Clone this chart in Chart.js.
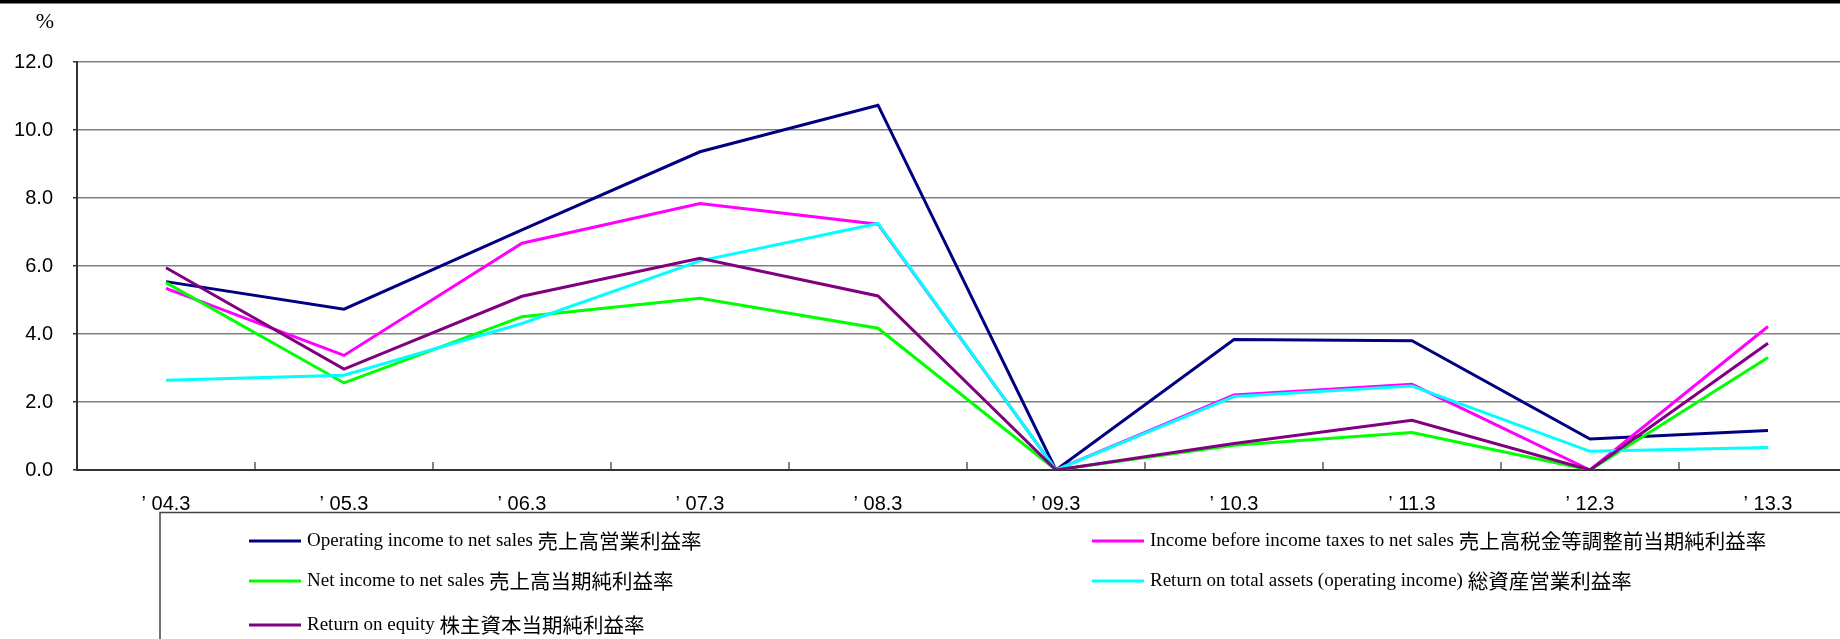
<!DOCTYPE html>
<html>
<head>
<meta charset="utf-8">
<script src="https://cdn.jsdelivr.net/npm/chart.js@4.4.0/dist/chart.umd.min.js"></script>
<style>
  html, body { margin: 0; padding: 0; background: #fff; overflow: hidden; }
  #wrap { width: 1860px; height: 639px; position: relative; }
</style>
</head>
<body>
<div id="wrap"><canvas id="ratioChart"></canvas></div>
<script>
const years = ["’ 04.3", "’ 05.3", "’ 06.3", "’ 07.3", "’ 08.3", "’ 09.3", "’ 10.3", "’ 11.3", "’ 12.3", "’ 13.3"];
const yTicks = [0, 2, 4, 6, 8, 10, 12];

const operatingIncome = [5.54, 4.73, 7.06, 9.36, 10.73, 0, 3.84, 3.80, 0.91, 1.16];
const incomeBeforeTax = [5.34, 3.37, 6.67, 7.84, 7.23, 0, 2.21, 2.52, 0, 4.22];
const netIncome = [5.51, 2.56, 4.51, 5.05, 4.17, 0, 0.73, 1.10, 0, 3.31];
const returnOnAssets = [2.64, 2.79, 4.31, 6.15, 7.25, 0, 2.16, 2.47, 0.55, 0.66];
const returnOnEquity = [5.95, 2.97, 5.11, 6.23, 5.12, 0, 0.78, 1.46, 0, 3.73];

const seriesLabels = [
  "Operating income to net sales 売上高営業利益率",
  "Income before income taxes to net sales 売上高税金等調整前当期純利益率",
  "Net income to net sales 売上高当期純利益率",
  "Return on total assets (operating income) 総資産営業利益率",
  "Return on equity 株主資本当期純利益率"
];
const seriesColors = ["#000080", "#ff00ff", "#00ff00", "#00ffff", "#800080"];

// legend slots: [lineX, textX, rowY]
const legendSlots = [
  [249, 307, 541],
  [1092, 1150, 541],
  [249, 307, 581],
  [1092, 1150, 581],
  [249, 307, 625]
];

const frame = {
  id: "frame",
  beforeDraw(chart) {
    const ctx = chart.ctx;
    ctx.save();
    ctx.fillStyle = "#fff";
    ctx.fillRect(0, 0, chart.width, chart.height);
    ctx.fillStyle = "#000";
    ctx.fillRect(0, 0, chart.width, 3.5);
    ctx.font = "22px 'Liberation Serif'";
    ctx.textAlign = "center";
    ctx.textBaseline = "middle";
    ctx.fillText("%", 45, 22);
    ctx.restore();
  },
  afterDatasetsDraw(chart) {
    const ctx = chart.ctx;
    const x = chart.scales.x;
    const area = chart.chartArea;
    ctx.save();
    // category boundary ticks pointing up into the plot
    ctx.strokeStyle = "#333";
    ctx.lineWidth = 1.2;
    for (let i = 0; i < years.length - 1; i++) {
      const px = (x.getPixelForValue(i) + x.getPixelForValue(i + 1)) / 2;
      ctx.beginPath();
      ctx.moveTo(px, area.bottom);
      ctx.lineTo(px, area.bottom - 8);
      ctx.stroke();
    }
    // legend box
    ctx.strokeStyle = "#444";
    ctx.lineWidth = 1.5;
    ctx.beginPath();
    ctx.moveTo(160, 700);
    ctx.lineTo(160, 512.5);
    ctx.lineTo(chart.width + 5, 512.5);
    ctx.stroke();
    ctx.textBaseline = "middle";
    ctx.textAlign = "left";
    chart.data.datasets.forEach((ds, i) => {
      const [lx, tx, ty] = legendSlots[i];
      ctx.strokeStyle = ds.borderColor;
      ctx.lineWidth = 3;
      ctx.beginPath();
      ctx.moveTo(lx, ty);
      ctx.lineTo(lx + 52, ty);
      ctx.stroke();
      // latin part in serif, japanese part a little larger
      const cut = ds.label.lastIndexOf(" ") + 1;
      const latin = ds.label.slice(0, cut);
      const jp = ds.label.slice(cut);
      ctx.fillStyle = "#000";
      ctx.font = "19px 'Liberation Serif'";
      ctx.fillText(latin, tx, ty);
      const w = ctx.measureText(latin).width;
      ctx.font = "20.5px 'Noto Sans CJK JP'";
      ctx.fillText(jp, tx + w, ty);
    });
    ctx.restore();
  }
};

const seriesData = [operatingIncome, incomeBeforeTax, netIncome, returnOnAssets, returnOnEquity];

new Chart(document.getElementById("ratioChart"), {
  type: "line",
  data: {
    labels: years,
    datasets: seriesData.map((values, i) => ({
      label: seriesLabels[i],
      data: values,
      borderColor: seriesColors[i],
      backgroundColor: seriesColors[i],
      borderWidth: 3,
      pointRadius: 0,
      tension: 0,
      order: seriesData.length - i
    }))
  },
  options: {
    responsive: true,
    maintainAspectRatio: false,
    animation: false,
    layout: { padding: { top: 62, right: 3, left: 0, bottom: 0 } },
    plugins: {
      legend: { display: false },
      tooltip: { enabled: false }
    },
    scales: {
      x: {
        offset: true,
        grid: { display: false },
        border: { color: "#333", width: 2 },
        ticks: {
          color: "#000",
          padding: 14,
          maxRotation: 0,
          font: { family: "'Liberation Sans', Arial", size: 20 }
        },
        afterFit(scale) { scale.height = 169; }
      },
      y: {
        min: 0,
        max: 12,
        afterBuildTicks(scale) { scale.ticks = yTicks.map((v) => ({ value: v })); },
        grid: { color: "#808080", lineWidth: 1.5, tickLength: 4, tickColor: "#333" },
        border: { color: "#333", width: 2 },
        ticks: {
          color: "#000",
          padding: 20,
          font: { family: "'Liberation Sans', Arial", size: 20 },
          callback: (v) => Number(v).toFixed(1)
        },
        afterFit(scale) { scale.width = 77; }
      }
    }
  },
  plugins: [frame]
});
</script>
</body>
</html>
